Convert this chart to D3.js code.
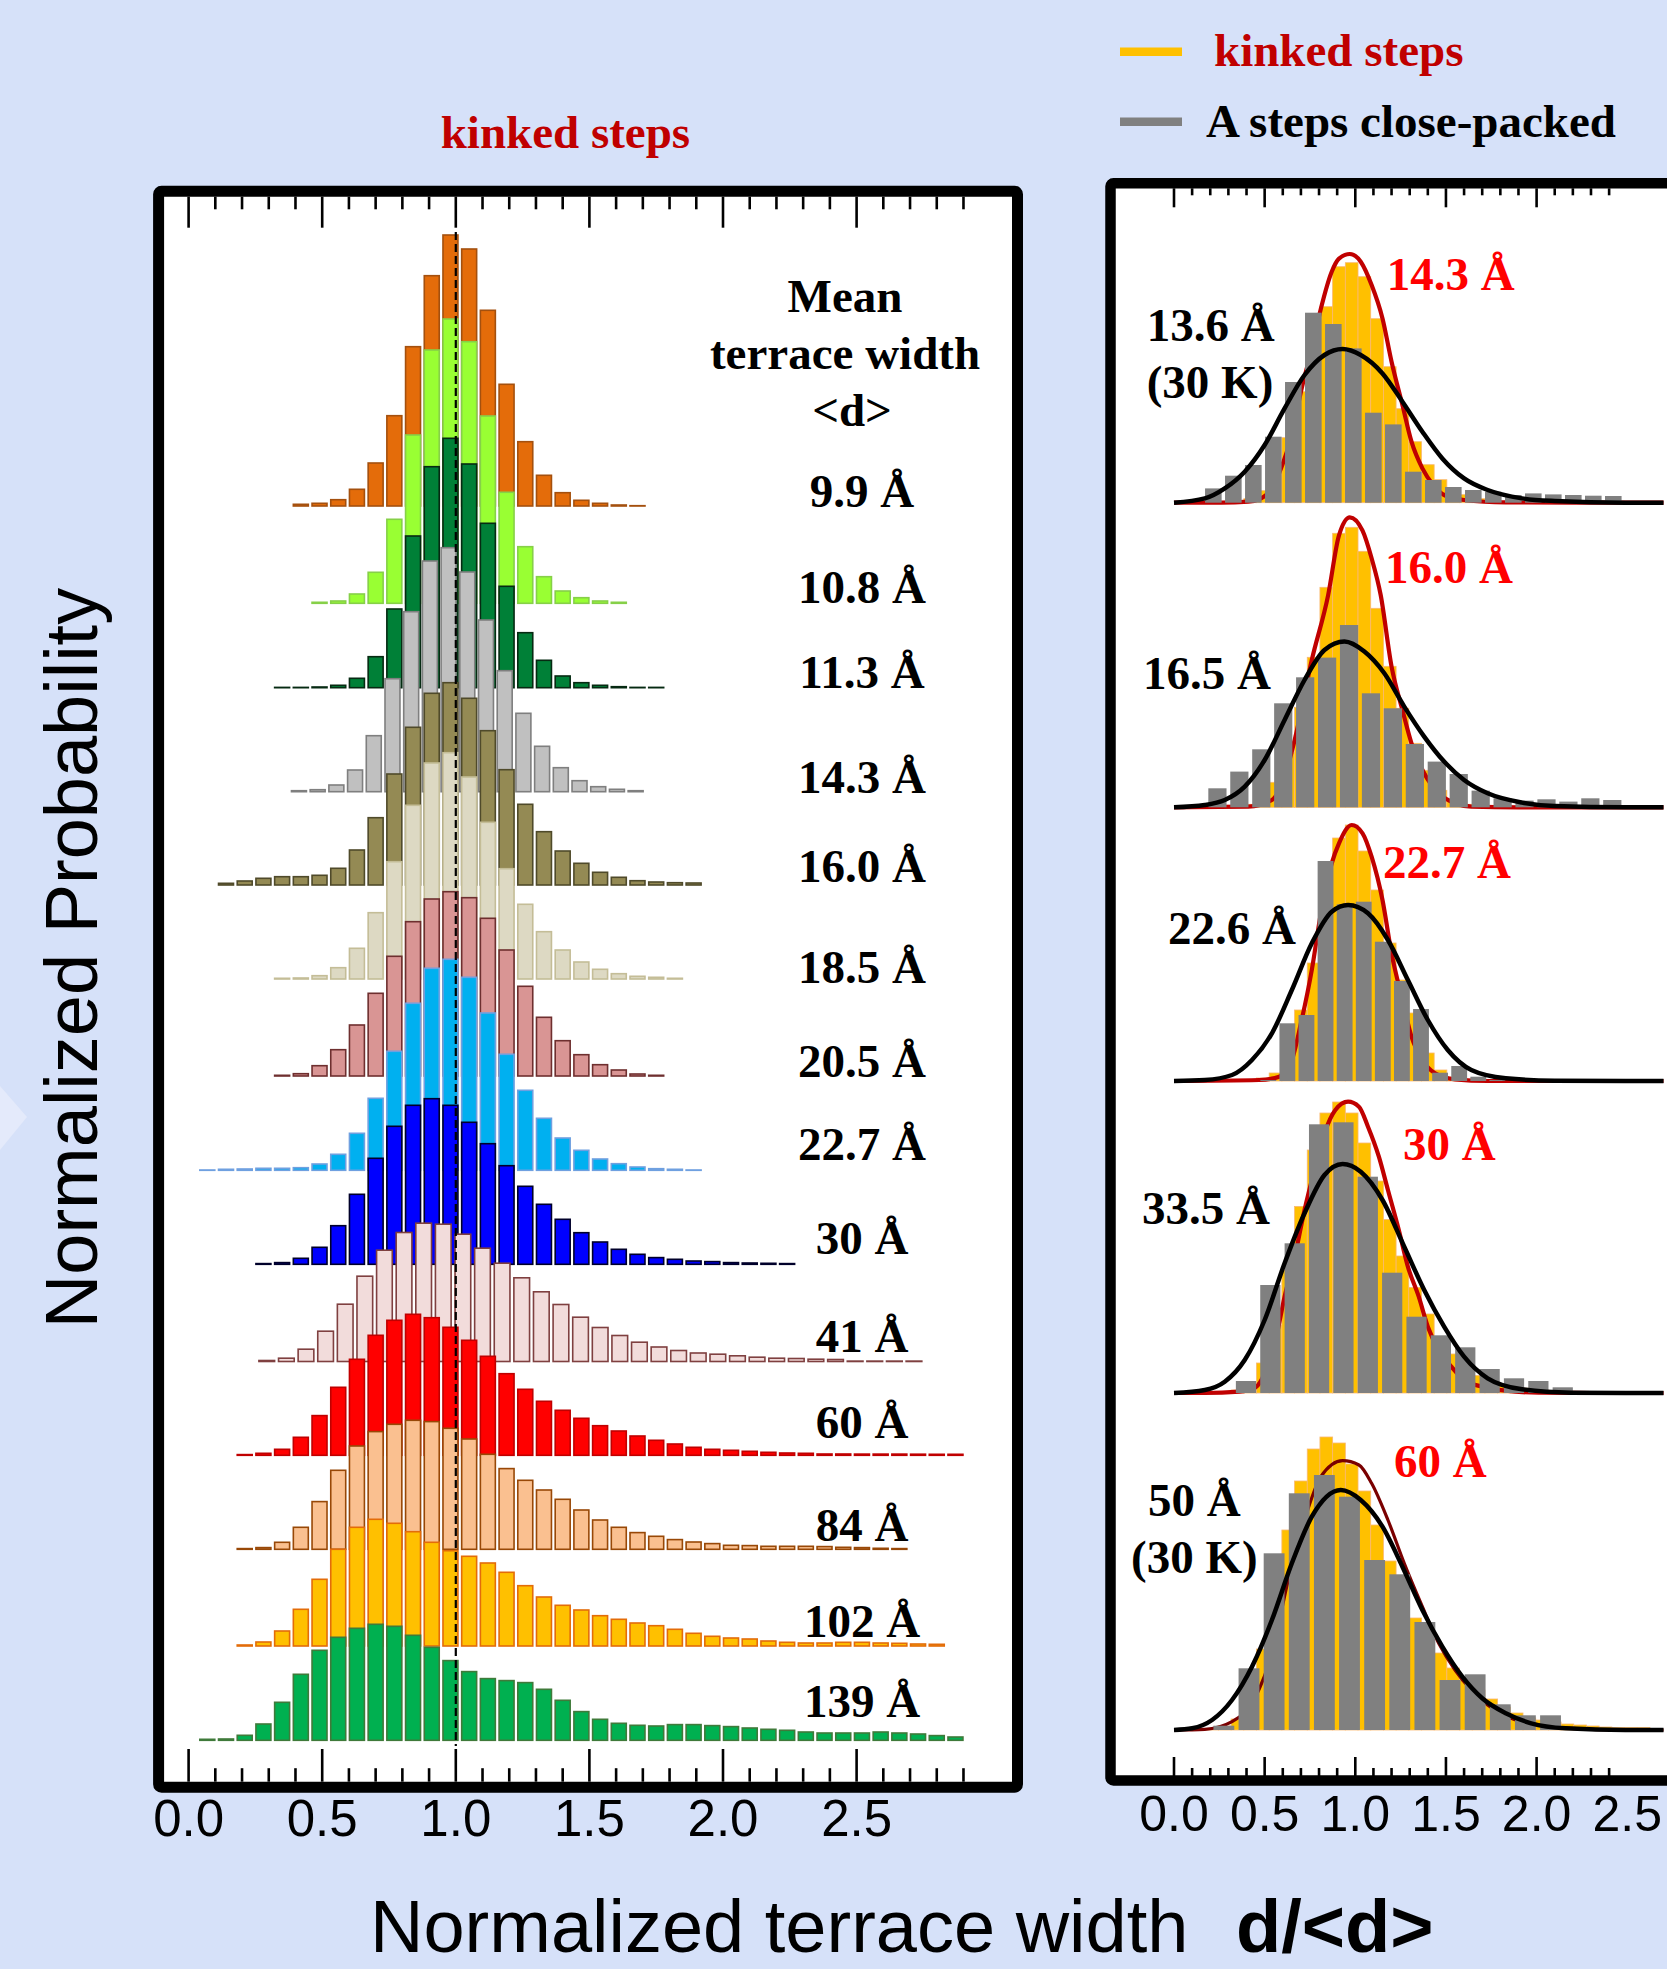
<!DOCTYPE html>
<html><head><meta charset="utf-8">
<script src="https://cdn.jsdelivr.net/npm/d3@7"></script>
<style>
html,body{margin:0;padding:0;background:#d6e1f9;}
svg{display:block;}
</style></head><body>
<svg id="chart" width="1667" height="1969"></svg>
<script>
// ---------------- DATA ----------------
// Left panel: kinked-step terrace width distributions (mean terrace width labels)
const leftLabels = ["9.9 Å","10.8 Å","11.3 Å","14.3 Å","16.0 Å","18.5 Å","20.5 Å","22.7 Å","30 Å","41 Å","60 Å","84 Å","102 Å","139 Å"];
// d/<d> of the first bin centre and bin width for each series
const leftFirstBin = [0.42,0.49,0.35,0.413,0.14,0.35,0.35,0.07,0.28,0.2925,0.21,0.21,0.21,0.07];
const leftBinWidth = [0.07,0.07,0.07,0.07,0.07,0.07,0.07,0.07,0.07,0.0734,0.07,0.07,0.07,0.07];
const p99  = [1.7,2.7,6.3,16.7,43,90.3,159.3,230.3,271,257,195.7,121.7,64.3,30.7,13.3,5.7,2.7,1,0.3];
const p108 = [1,2.3,9.3,31,84,168.3,253.3,284.3,261.6,187.3,111,56.6,26.6,12.3,5.6,2.3,1];
const p113 = [0.3,0.3,0.7,2.4,9.4,31,78.7,151.7,221,249.4,223.7,164.4,101.4,55,27.4,11.7,5,2.4,1,0.3,0.3];
const p143 = [1,2,6.7,21.7,56,113,180,230.7,244,219.7,171.7,121,78.4,45.4,24,11,5,2.4,1];
const p160 = [1.7,4,6.7,8.3,8.3,9.7,16.7,35,67.3,111,157.7,191.7,202.3,186.7,154.3,115.3,80.7,53.3,34,21.7,12.7,7.7,4.3,3,2.3,2];
const p185 = [0.7,1,3.3,11.3,30.7,66.3,117.3,173.7,216,226.3,202,156.7,110.3,74.7,47.3,29,17,9.7,5.3,2.7,1.7,0.7];
const p205 = [0.7,2.3,10.3,26.3,51,82.7,119.7,154.3,177,184.3,178.3,157.7,126,89.7,58.7,35.3,21.3,11.3,6,2,0.7];
const p227 = [0.3,1,1.3,2,2,2.6,6.3,16,37,72,119,167,202,211,193,157.3,116,80,52,32.3,20,11.3,6.6,3.3,1.6,1,0.3];
const p30  = [0.7,1.7,6,17,38.6,70,106,138,159,165.6,159,142,120.6,98.6,78,60,45,31.6,22.3,15,10,6.7,5,3.3,2.7,1.7,1.3,1,0.7];
const p41  = [1,3.3,12.3,30.3,57.3,85.3,111.3,129,138.3,137.3,127.3,113.3,98.3,83.7,69.7,57,44.3,34,26,19.3,14.5,11,8.5,7.3,5.7,4.3,3.3,3,2.3,2,0.4,0.4,0.4,0.4];
const p60  = [0.7,2,6,18,39.7,68,96,120,135,141,137.6,128,115,99,81.6,66,54,45,37,29.6,24.3,19.3,15,11.3,8,6,5,4,3,2.3,2,1.3,1.3,1.2,1.2,1.2,1.1,1,1];
const p84  = [0.7,1.7,7,22,47.7,79,103.3,117.7,125,129,127.7,121,110.3,95,80.7,69,59.3,50,39.3,29.3,22,16.7,13,9.7,7.3,5.7,4,3.7,3,3,3,2.7,2,1.7,1,0.7];
const p102 = [1,4,15,36.7,66.7,96.7,118.7,126.7,122.7,114.3,103.7,95.3,89.7,83,73.7,60.3,49,40.7,36,30.3,26.7,23,20.3,16.7,12.7,9.7,8,7,5,3.7,3,3,3.7,3.7,3,2.7,2,1.7];
const p139 = [1,1.3,5,16.3,38,66,90,103,112,116,114,105,93,79.7,68.7,61.7,59.7,57.7,51,40,28.7,21,17,15,14.3,15.7,15.7,14.7,13.7,12.3,11,10,8.3,7.3,7.3,7.3,8.3,7.3,6.3,4.7,3.3];
const leftValues = [p99,p108,p113,p143,p160,p185,p205,p227,p30,p41,p60,p84,p102,p139];
const leftHeader = ["Mean","terrace width","<d>"];

// Right panels: kinked steps (yellow) vs A steps close-packed (gray)
const kinkedLabels = ["14.3 Å","16.0 Å","22.7 Å","30 Å","60 Å"];
const closeLabels = [["13.6 Å","(30 K)"],["16.5 Å"],["22.6 Å"],["33.5 Å"],["50 Å","(30 K)"]];
const kinkedFirstBin = [0.35,0.42,0.42,0.28,0.21];
const kinkedBinWidth = 0.07;
const k1 = [1,4,12,30,65,111,154,196,236,240,226,184,136,94,61,38,23,15,8,4,2];
const k2 = [3,8,25,55,100,150,220,274,280,256,199,141,99,64,37,17,8,3,1];
const k3 = [1,3,8,28,71,118,189,243,256,230,191,138,101,68,28,11,4,1.5];
const k4 = [1.2,3,10.6,30,68,123,186.6,243,280,291,280,250,212,173.5,137,105.6,79,55.6,39,26,17.6,11.8,8.8,5.8,4.8,3];
const k5 = [1.5,4,11,37,81,141,200,249,281,293,287,266,239,205,169,137,112,94,77,62,50,40,31,23,17,12,10,8,6,5,4,3,2.5,2.5,2.5];
const kinkedValues = [k1,k2,k3,k4,k5];
const closeFirstBin = [0.217,0.2395,0.52,0.397,0.275];
const closeBinWidth = [0.1103,0.121,0.1053,0.1344,0.1386];
const c1 = [14.3,27,37.7,66,120.7,190,178.7,154.3,90,78.3,31,22.7,15.7,12.7,11,7.7,9.3,8.3,7.7,7,6.7];
const c2 = [19,35.7,58,104,130,149.7,182.3,114,99,63.3,45.7,33.3,16.7,9,6.7,8,5.7,9,7.3];
const c3 = [1,57.7,66,220,176.7,179.3,139.3,100,72,8.3,15,4.3,1];
const c4 = [12,108,149.7,268.7,270.7,216.3,120.3,76.3,57.7,45.7,24,14.7,12,5.7];
const c5 = [4.3,61.7,176.7,236.7,255,233.3,170,155.7,108,50,55.7,25.7,14.7,14.7];
const closeValues = [c1,c2,c3,c4,c5];
// fitted curves: [d/<d>, probability]
const fitK1 = [[0,0],[0.26,0],[0.41,1],[0.48,4.3],[0.54,14.3],[0.59,34.3],[0.65,67.7],[0.7,111],[0.76,154],[0.81,194],[0.87,231],[0.91,244],[0.97,248.7],[1.03,241],[1.09,217.7],[1.15,184.3],[1.2,141],[1.26,97.7],[1.31,61],[1.37,34.3],[1.43,17.7],[1.49,7.7],[1.6,2.7],[1.83,0.3],[2.2,0],[2.7,0]];
const fitC1 = [[0,0],[0.17,4.3],[0.28,14.3],[0.39,31],[0.5,57.7],[0.61,94.3],[0.72,127.7],[0.83,147.7],[0.93,153.7],[1.03,147.7],[1.15,129.3],[1.26,101],[1.37,71],[1.48,44.3],[1.6,24.3],[1.73,12.7],[1.92,4.3],[2.1,1.7],[2.49,0],[2.7,0]];
const fitK2 = [[0,0],[0.41,0.7],[0.54,7.3],[0.61,30.7],[0.67,70.7],[0.76,147.3],[0.85,212],[0.91,272],[0.97,290],[1.04,276.6],[1.09,249],[1.14,212.3],[1.2,140.7],[1.26,97.3],[1.31,64],[1.38,34],[1.46,14],[1.55,4],[1.64,0.7],[1.9,0],[2.7,0]];
const fitC2 = [[0,0],[0.17,2.3],[0.28,7.3],[0.39,20.7],[0.5,47.3],[0.61,87.3],[0.72,127.3],[0.83,157.3],[0.94,165.7],[1.05,155.7],[1.16,134],[1.27,100.7],[1.38,70.7],[1.49,45.7],[1.6,27.3],[1.73,14],[1.92,4.7],[2.1,1.3],[2.49,0],[2.7,0]];
const fitK3 = [[0,0],[0.47,1],[0.58,4.3],[0.65,21],[0.7,57.7],[0.76,111],[0.81,167.7],[0.87,217.7],[0.91,237.7],[0.98,256],[1.04,247.7],[1.09,224.3],[1.15,181],[1.2,127.7],[1.26,81],[1.31,44.3],[1.37,21],[1.44,7.7],[1.55,1.7],[1.73,0],[2.7,0]];
const fitC3 = [[0,0],[0.17,1],[0.32,6],[0.43,21],[0.54,47.7],[0.65,91],[0.76,137.7],[0.87,169.3],[0.96,176],[1.07,167.7],[1.18,141],[1.29,101],[1.4,61],[1.51,31],[1.64,11],[1.83,2.7],[2.1,0.3],[2.49,0],[2.7,0]];
const fitK4 = [[0,0],[0.17,0],[0.36,1.3],[0.45,5.7],[0.5,19.7],[0.56,53],[0.61,96.3],[0.67,139.7],[0.72,183],[0.78,226.3],[0.83,259.7],[0.89,283],[0.96,291.3],[1.02,286.3],[1.07,266.3],[1.13,236.3],[1.18,203],[1.24,163],[1.29,126.3],[1.35,96.3],[1.4,66.3],[1.46,43],[1.53,26.3],[1.6,13],[1.7,6.3],[1.83,2.3],[2.01,0.3],[2.3,0],[2.7,0]];
const fitC4 = [[0,0],[0.17,3],[0.28,11.3],[0.39,33],[0.5,73],[0.61,129.7],[0.72,179.7],[0.83,218],[0.93,229],[1.03,221.3],[1.15,193],[1.27,146.3],[1.38,103],[1.49,66.3],[1.6,36.3],[1.73,14.7],[1.92,3.7],[2.19,0.3],[2.49,0],[2.7,0]];
const fitK5 = [[0,0],[0.17,0.7],[0.32,8.3],[0.45,33.3],[0.54,76.7],[0.63,150],[0.72,210],[0.81,253.3],[0.93,269.3],[1.02,265],[1.09,246.7],[1.18,210],[1.27,166.7],[1.37,123.3],[1.46,86.7],[1.55,60],[1.64,40],[1.73,25],[1.86,11.7],[2.01,5],[2.19,1.7],[2.49,0],[2.7,0]];
const fitC5 = [[0,0],[0.1,1.7],[0.21,10],[0.32,30],[0.43,63.3],[0.54,110],[0.65,166.7],[0.76,213.3],[0.92,240],[1.03,230],[1.15,203.3],[1.26,163.3],[1.37,120],[1.48,83.3],[1.59,53.3],[1.7,31.7],[1.83,16.7],[1.97,6.7],[2.16,1.7],[2.49,0],[2.7,0]];
const kinkedFits = [fitK1,fitK2,fitK3,fitK4,fitK5];
const closeFits = [fitC1,fitC2,fitC3,fitC4,fitC5];

const leftTicksMajor = [0,0.5,1,1.5,2,2.5];
const rightTicksMajor = [0,0.5,1,1.5,2,2.5];
const legendItems = ["kinked steps","A steps close-packed"];
const titleText = "kinked steps";
const xTitle = "Normalized terrace width";
const xTitleBold = "d/<d>";
const yTitle = "Normalized Probability";

// ---------------- LAYOUT / STYLE ----------------
const W = 1667, H = 1969;
const SERIF = "'Liberation Serif','Times New Roman',serif";
const SANS = "'Liberation Sans',Arial,sans-serif";
const leftFill   = ["#e46c0a","#99ff33","#008037","#c0c0c0","#948a54","#ddd9c3","#d99594","#00b0f0","#0000ff","#f2dcdb","#ff0000","#fac090","#ffc000","#00b050"];
const leftStroke = ["#a4500e","#86d048","#062a12","#7f7f7f","#4f4a2a","#c4bd97","#6e2f2f","#6fa0e0","#00002a","#7f4040","#c00000","#984807","#e36c09","#3f7a3a"];
const leftBase = [506,603.3,687.7,791.7,885,979,1076,1170.3,1264.3,1361.5,1455.3,1549.3,1646,1740.3];
const leftLabelY = [507,603,688,793,882,983,1077,1160,1254,1352,1438,1541,1637,1717];
const rightBase = [502.7,807.3,1081,1393,1730];
const redLabelPos = [[1386.7,290],[1385,583.3],[1383,878.3],[1403,1160],[1394,1477.3]];
const blackLabelPos = [[[1146.7,340.7],[1146.7,398.3]],[[1143,689.3]],[[1168,944.3]],[[1142,1224]],[[1148,1515.7],[1131,1573.3]]];

const svg = d3.select("#chart");
svg.append("rect").attr("width",W).attr("height",H).attr("fill","#d6e1f9");
svg.append("path").attr("d","M0,1086 L27,1117 L0,1150 Z").attr("fill","#e4eafb");
const defs = svg.append("defs");

// ===== LEFT PANEL =====
const xL = d3.scaleLinear().domain([0,1]).range([188.6,455.8]);
const hScale = d3.scaleLinear().domain([0,100]).range([0,100]);
svg.append("rect").attr("x",158.6).attr("y",191.2).attr("width",858.9).attr("height",1596.1).attr("fill","#fff");
defs.append("clipPath").attr("id","clipL").append("rect").attr("x",164).attr("y",197).attr("width",848).attr("height",1584);
const gL = svg.append("g").attr("clip-path","url(#clipL)");
leftValues.forEach((vals,si)=>{
  const w = leftBinWidth[si];
  const g = gL.append("g");
  g.selectAll("rect").data(vals).join("rect")
    .attr("x",(d,i)=>xL(leftFirstBin[si]+i*w-0.4*w))
    .attr("width",(d,i)=>xL(leftFirstBin[si]+i*w+0.4*w)-xL(leftFirstBin[si]+i*w-0.4*w))
    .attr("y",d=>leftBase[si]-hScale(d))
    .attr("height",d=>hScale(d))
    .attr("fill",leftFill[si]).attr("stroke",leftStroke[si]).attr("stroke-width",1.6);
});
// dashed line at 1.0
gL.append("line").attr("x1",xL(1)).attr("x2",xL(1)).attr("y1",232).attr("y2",1746)
  .attr("stroke","#000").attr("stroke-width",2.2).attr("stroke-dasharray","8,4");

// ticks
function ticks(g, scale, vmax, y, dir, majLen, minLen){
  const minor = d3.range(0, Math.round(vmax*10)+1).map(i=>i/10);
  g.selectAll(null).data(minor).join("line")
    .attr("x1",d=>scale(d)).attr("x2",d=>scale(d))
    .attr("y1",y).attr("y2",d=>y+dir*((Math.round(d*10)%5===0)?majLen:minLen))
    .attr("stroke","#000").attr("stroke-width",2.6);
}
ticks(svg.append("g"), xL, 2.9, 196.7, 1, 31, 12.6);
ticks(svg.append("g"), xL, 2.9, 1781.7, -1, 32.7, 13.5);
// frame
svg.append("rect").attr("x",158.6).attr("y",191.2).attr("width",858.9).attr("height",1596.1)
  .attr("fill","none").attr("stroke","#000").attr("stroke-width",11).attr("rx",3);
// tick labels
svg.append("g").selectAll("text").data(leftTicksMajor).join("text")
  .attr("x",d=>xL(d)).attr("y",1836).attr("text-anchor","middle")
  .attr("font-family",SANS).attr("font-size",51).attr("fill","#000")
  .text(d=>d3.format(".1f")(d));
// series labels
svg.append("g").selectAll("text").data(leftLabels).join("text")
  .attr("x",862).attr("y",(d,i)=>leftLabelY[i]).attr("text-anchor","middle")
  .attr("font-family",SERIF).attr("font-weight","bold").attr("font-size",47).attr("fill","#000")
  .text(d=>d);
const headerY = [312,369,426], headerX = [845,845,852];
svg.append("g").selectAll("text").data(leftHeader).join("text")
  .attr("x",(d,i)=>headerX[i]).attr("y",(d,i)=>headerY[i]).attr("text-anchor","middle")
  .attr("font-family",SERIF).attr("font-weight","bold").attr("font-size",47).attr("fill","#000")
  .text(d=>d);
// title
svg.append("text").attr("x",440.7).attr("y",148.3).attr("font-family",SERIF).attr("font-weight","bold")
  .attr("font-size",47).attr("fill","#c00000").text(titleText);

// ===== RIGHT PANEL =====
const xR = d3.scaleLinear().domain([0,1]).range([1174,1355.3]);
svg.append("rect").attr("x",1110.5).attr("y",183.3).attr("width",1547.5).attr("height",1597.2).attr("fill","#fff");
defs.append("clipPath").attr("id","clipR").append("rect").attr("x",1116).attr("y",189).attr("width",1537).attr("height",1587);
const gR = svg.append("g").attr("clip-path","url(#clipR)");
const line = d3.line().x(d=>xR(d[0])).curve(d3.curveMonotoneX);
kinkedValues.forEach((vals,pi)=>{
  const base = rightBase[pi];
  const g = gR.append("g");
  // kinked steps bars
  g.append("g").selectAll("rect").data(vals).join("rect")
    .attr("x",(d,i)=>xR(kinkedFirstBin[pi]+i*kinkedBinWidth-kinkedBinWidth/2))
    .attr("width",xR(kinkedBinWidth)-xR(0))
    .attr("y",d=>base-hScale(d)).attr("height",d=>hScale(d))
    .attr("fill","#ffc000").attr("stroke","#f9b872").attr("stroke-width",0.8);
  // kinked fit
  g.append("path").datum(kinkedFits[pi])
    .attr("d",line.y(d=>base-hScale(d[1])))
    .attr("fill","none").attr("stroke",pi===4?"#7a0000":"#c00000").attr("stroke-width",pi===4?3.2:4.2);
  // close-packed bars
  const cw = closeBinWidth[pi];
  g.append("g").selectAll("rect").data(closeValues[pi]).join("rect")
    .attr("x",(d,i)=>xR(closeFirstBin[pi]+i*cw-0.415*cw))
    .attr("width",xR(0.83*cw)-xR(0))
    .attr("y",d=>base-hScale(d)).attr("height",d=>hScale(d))
    .attr("fill","#808080");
  // close-packed fit
  g.append("path").datum(closeFits[pi])
    .attr("d",line.y(d=>base-hScale(d[1])))
    .attr("fill","none").attr("stroke","#000").attr("stroke-width",4.5);
  // labels
  svg.append("text").attr("x",redLabelPos[pi][0]).attr("y",redLabelPos[pi][1])
    .attr("font-family",SERIF).attr("font-weight","bold").attr("font-size",47).attr("fill","#ff0000")
    .text(kinkedLabels[pi]);
  closeLabels[pi].forEach((t,li)=>{
    svg.append("text").attr("x",blackLabelPos[pi][li][0]).attr("y",blackLabelPos[pi][li][1])
      .attr("font-family",SERIF).attr("font-weight","bold").attr("font-size",47).attr("fill","#000")
      .text(t);
  });
});
ticks(svg.append("g"), xR, 2.4, 188.3, 1, 19, 7);
ticks(svg.append("g"), xR, 2.4, 1776, -1, 19, 8);
svg.append("rect").attr("x",1110.5).attr("y",183.3).attr("width",1547.5).attr("height",1597.2)
  .attr("fill","none").attr("stroke","#000").attr("stroke-width",10.5).attr("rx",3);
svg.append("g").selectAll("text").data(rightTicksMajor).join("text")
  .attr("x",d=>xR(d)).attr("y",1831).attr("text-anchor","middle")
  .attr("font-family",SANS).attr("font-size",50).attr("fill","#000")
  .text(d=>d3.format(".1f")(d));

// ===== LEGEND =====
const legColors = ["#ffc000","#808080"], legTextColors = ["#c00000","#000"];
const legY = [51.7,121.7], legTextY = [65.7,136.7], legTextX = [1214,1206];
legendItems.forEach((t,i)=>{
  svg.append("line").attr("x1",1120).attr("x2",1182).attr("y1",legY[i]).attr("y2",legY[i])
    .attr("stroke",legColors[i]).attr("stroke-width",8.5);
  svg.append("text").attr("x",legTextX[i]).attr("y",legTextY[i])
    .attr("font-family",SERIF).attr("font-weight","bold").attr("font-size",47).attr("fill",legTextColors[i]).text(t);
});

// ===== AXIS TITLES =====
svg.append("text").attr("x",370).attr("y",1952).attr("font-family",SANS).attr("font-size",74).attr("fill","#000").text(xTitle);
svg.append("text").attr("x",1236).attr("y",1952).attr("font-family",SANS).attr("font-weight","bold").attr("font-size",74).attr("fill","#000").text(xTitleBold);
svg.append("text").attr("transform","translate(97,958) rotate(-90)").attr("text-anchor","middle")
  .attr("font-family",SANS).attr("font-size",74).attr("fill","#000").text(yTitle);
</script>
</body></html>
